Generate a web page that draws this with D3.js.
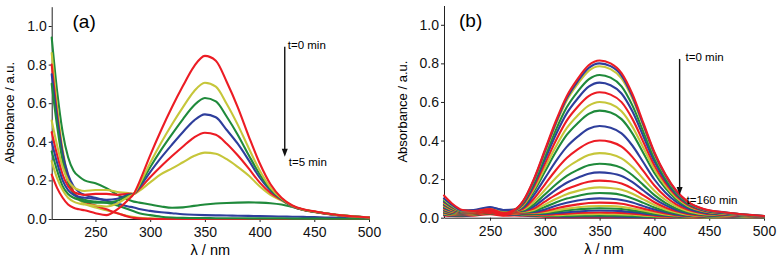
<!DOCTYPE html>
<html>
<head>
<meta charset="utf-8">
<script src="https://cdn.jsdelivr.net/npm/d3@7"></script>
<style>
  body { margin: 0; background: #fff; }
  svg { display: block; font-family: "Liberation Sans", Arial, sans-serif; }
  .axis path, .axis line { stroke: #222; stroke-width: 1; }
  .axis text { font-size: 14px; fill: #111; font-family: "Liberation Sans", Arial, sans-serif; }
  .spectrum { fill: none; stroke-width: 2.1; stroke-linejoin: round; stroke-linecap: round; }
</style>
</head>
<body>
<svg id="chart" width="781" height="260"></svg>
<script>
// ---- data ----
const xTicks = [250, 300, 350, 400, 450, 500];
const yTicks = [0, 0.2, 0.4, 0.6, 0.8, 1.0];

// panel (a): t = 0 ... 5 min
const wavelengthsA = [210, 215, 220, 225, 230, 235, 240, 250, 260, 270, 280, 285, 290, 300, 310, 320, 330, 340,
  350, 360, 370, 380, 390, 400, 410, 420, 430, 440, 450, 460, 470, 480, 490, 500];
const spectraA = [
  [0.23, 0.16, 0.11, 0.075, 0.058, 0.05, 0.045, 0.03, 0.02, 0.05, 0.10, 0.13, 0.19, 0.33, 0.46, 0.58, 0.69, 0.79, 0.845, 0.82, 0.71, 0.58, 0.43, 0.29, 0.18, 0.11, 0.07, 0.05, 0.04, 0.03, 0.022, 0.016, 0.012, 0.008],
  [0.30, 0.21, 0.15, 0.11, 0.09, 0.08, 0.075, 0.07, 0.065, 0.08, 0.115, 0.13, 0.178, 0.29, 0.395, 0.491, 0.58, 0.661, 0.706, 0.686, 0.596, 0.489, 0.368, 0.253, 0.163, 0.106, 0.068, 0.049, 0.039, 0.03, 0.022, 0.016, 0.012, 0.008],
  [0.35, 0.25, 0.17, 0.13, 0.11, 0.10, 0.09, 0.085, 0.085, 0.095, 0.12, 0.13, 0.171, 0.268, 0.358, 0.44, 0.518, 0.588, 0.627, 0.609, 0.53, 0.437, 0.332, 0.232, 0.154, 0.104, 0.067, 0.048, 0.038, 0.029, 0.021, 0.016, 0.011, 0.008],
  [0.40, 0.29, 0.20, 0.15, 0.125, 0.115, 0.11, 0.105, 0.10, 0.105, 0.125, 0.13, 0.163, 0.243, 0.318, 0.386, 0.451, 0.51, 0.542, 0.527, 0.461, 0.39, 0.305, 0.215, 0.147, 0.102, 0.066, 0.048, 0.038, 0.029, 0.021, 0.015, 0.011, 0.008],
  [0.45, 0.33, 0.23, 0.17, 0.14, 0.13, 0.125, 0.13, 0.13, 0.125, 0.13, 0.13, 0.155, 0.216, 0.273, 0.326, 0.376, 0.422, 0.447, 0.436, 0.39, 0.33, 0.262, 0.19, 0.135, 0.10, 0.066, 0.047, 0.037, 0.028, 0.021, 0.015, 0.011, 0.008],
  [0.51, 0.38, 0.27, 0.20, 0.165, 0.15, 0.145, 0.15, 0.15, 0.14, 0.135, 0.13, 0.146, 0.19, 0.232, 0.262, 0.294, 0.326, 0.344, 0.338, 0.31, 0.27, 0.225, 0.17, 0.125, 0.095, 0.065, 0.047, 0.037, 0.028, 0.02, 0.015, 0.011, 0.008],
  [0.70, 0.48, 0.30, 0.19, 0.13, 0.11, 0.10, 0.09, 0.085, 0.07, 0.05, 0.04, 0.03, 0.02, 0.012, 0.008, 0.006, 0.005, 0.005, 0.004, 0.004, 0.004, 0.003, 0.003, 0.003, 0.003, 0.002, 0.002, 0.002, 0.002, 0.001, 0.001, 0.001, 0.001],
  [0.75, 0.52, 0.34, 0.23, 0.17, 0.14, 0.125, 0.11, 0.095, 0.08, 0.065, 0.06, 0.052, 0.042, 0.035, 0.03, 0.025, 0.022, 0.02, 0.019, 0.018, 0.017, 0.016, 0.015, 0.014, 0.013, 0.012, 0.011, 0.01, 0.008, 0.007, 0.006, 0.005, 0.004],
  [0.80, 0.54, 0.34, 0.21, 0.14, 0.11, 0.09, 0.07, 0.05, 0.03, 0.012, 0.006, 0.003, 0.001, 0, 0, 0, 0, 0, 0, 0, 0, 0, 0, 0, 0, 0, 0, 0, 0, 0, 0, 0, 0],
  [0.86, 0.58, 0.36, 0.22, 0.14, 0.10, 0.08, 0.06, 0.045, 0.03, 0.015, 0.01, 0.006, 0.003, 0.001, 0, 0, 0, 0, 0, 0, 0, 0, 0, 0, 0, 0, 0, 0, 0, 0, 0, 0, 0],
  [0.94, 0.66, 0.45, 0.32, 0.25, 0.22, 0.20, 0.185, 0.16, 0.125, 0.10, 0.09, 0.085, 0.075, 0.065, 0.058, 0.06, 0.068, 0.075, 0.08, 0.083, 0.085, 0.086, 0.085, 0.082, 0.075, 0.062, 0.048, 0.038, 0.03, 0.022, 0.016, 0.012, 0.008]
];

// panel (b): t = 0 ... 160 min
const wavelengthsB = [208, 215, 225, 235, 250, 262, 272, 280, 290, 300, 310, 320, 330, 340, 350, 360, 370, 380,
  390, 400, 410, 420, 430, 445, 465, 500];
const spectraB = [
  [0.115, 0.075, 0.04, 0.035, 0.045, 0.025, 0.04, 0.085, 0.20, 0.35, 0.50, 0.63, 0.72, 0.79, 0.815, 0.80, 0.75, 0.64, 0.49, 0.34, 0.225, 0.14, 0.085, 0.045, 0.027, 0.009],
  [0.10, 0.068, 0.038, 0.04, 0.055, 0.04, 0.042, 0.083, 0.196, 0.344, 0.491, 0.619, 0.707, 0.776, 0.80, 0.786, 0.737, 0.628, 0.481, 0.334, 0.221, 0.137, 0.083, 0.044, 0.027, 0.009],
  [0.095, 0.064, 0.036, 0.038, 0.05, 0.038, 0.042, 0.082, 0.193, 0.337, 0.482, 0.607, 0.693, 0.761, 0.785, 0.77, 0.722, 0.616, 0.472, 0.327, 0.217, 0.135, 0.082, 0.043, 0.026, 0.009],
  [0.09, 0.06, 0.035, 0.036, 0.048, 0.036, 0.04, 0.077, 0.182, 0.318, 0.454, 0.572, 0.654, 0.717, 0.74, 0.726, 0.681, 0.581, 0.445, 0.309, 0.204, 0.127, 0.077, 0.041, 0.025, 0.008],
  [0.085, 0.057, 0.034, 0.036, 0.052, 0.04, 0.04, 0.073, 0.172, 0.301, 0.43, 0.541, 0.618, 0.679, 0.70, 0.687, 0.644, 0.55, 0.421, 0.292, 0.193, 0.12, 0.073, 0.039, 0.023, 0.008],
  [0.08, 0.054, 0.033, 0.032, 0.042, 0.022, 0.036, 0.068, 0.16, 0.279, 0.399, 0.503, 0.575, 0.63, 0.65, 0.638, 0.599, 0.511, 0.391, 0.271, 0.18, 0.112, 0.068, 0.036, 0.022, 0.007],
  [0.076, 0.051, 0.032, 0.033, 0.045, 0.034, 0.037, 0.063, 0.147, 0.258, 0.368, 0.464, 0.53, 0.581, 0.60, 0.589, 0.552, 0.471, 0.361, 0.25, 0.166, 0.103, 0.063, 0.033, 0.02, 0.007],
  [0.072, 0.048, 0.031, 0.032, 0.043, 0.033, 0.036, 0.058, 0.136, 0.238, 0.341, 0.429, 0.49, 0.538, 0.555, 0.545, 0.511, 0.436, 0.334, 0.232, 0.153, 0.095, 0.058, 0.031, 0.018, 0.006],
  [0.068, 0.046, 0.03, 0.033, 0.05, 0.038, 0.037, 0.052, 0.117, 0.204, 0.292, 0.367, 0.42, 0.461, 0.475, 0.466, 0.437, 0.373, 0.286, 0.198, 0.131, 0.082, 0.05, 0.026, 0.016, 0.005],
  [0.064, 0.043, 0.029, 0.029, 0.038, 0.02, 0.033, 0.046, 0.098, 0.172, 0.246, 0.309, 0.354, 0.388, 0.40, 0.393, 0.368, 0.314, 0.241, 0.167, 0.11, 0.069, 0.042, 0.022, 0.013, 0.004],
  [0.06, 0.04, 0.028, 0.03, 0.042, 0.032, 0.034, 0.042, 0.082, 0.144, 0.206, 0.259, 0.296, 0.325, 0.335, 0.329, 0.308, 0.263, 0.201, 0.14, 0.092, 0.058, 0.035, 0.018, 0.011, 0.004],
  [0.056, 0.038, 0.027, 0.029, 0.04, 0.031, 0.033, 0.038, 0.069, 0.12, 0.172, 0.217, 0.248, 0.272, 0.28, 0.275, 0.258, 0.22, 0.169, 0.117, 0.077, 0.048, 0.029, 0.015, 0.009, 0.003],
  [0.052, 0.036, 0.026, 0.03, 0.046, 0.035, 0.034, 0.036, 0.058, 0.101, 0.144, 0.181, 0.207, 0.228, 0.235, 0.23, 0.216, 0.184, 0.141, 0.098, 0.065, 0.04, 0.024, 0.013, 0.008, 0.003],
  [0.048, 0.033, 0.025, 0.026, 0.034, 0.018, 0.03, 0.033, 0.047, 0.083, 0.118, 0.149, 0.17, 0.186, 0.192, 0.189, 0.177, 0.151, 0.116, 0.08, 0.053, 0.033, 0.02, 0.011, 0.006, 0.002],
  [0.045, 0.031, 0.024, 0.027, 0.037, 0.029, 0.031, 0.031, 0.04, 0.068, 0.097, 0.122, 0.139, 0.152, 0.157, 0.154, 0.145, 0.124, 0.095, 0.066, 0.043, 0.027, 0.016, 0.009, 0.005, 0.002],
  [0.042, 0.029, 0.023, 0.026, 0.035, 0.028, 0.03, 0.029, 0.035, 0.055, 0.079, 0.099, 0.113, 0.124, 0.128, 0.126, 0.118, 0.10, 0.077, 0.053, 0.035, 0.022, 0.013, 0.007, 0.004, 0.001],
  [0.039, 0.027, 0.022, 0.027, 0.04, 0.032, 0.031, 0.028, 0.03, 0.043, 0.062, 0.077, 0.089, 0.097, 0.10, 0.098, 0.092, 0.079, 0.06, 0.042, 0.028, 0.017, 0.01, 0.006, 0.003, 0.001],
  [0.036, 0.025, 0.021, 0.023, 0.03, 0.016, 0.027, 0.026, 0.027, 0.035, 0.048, 0.06, 0.069, 0.076, 0.078, 0.077, 0.072, 0.061, 0.047, 0.033, 0.022, 0.013, 0.008, 0.004, 0.003, 0.001],
  [0.033, 0.023, 0.02, 0.023, 0.032, 0.026, 0.028, 0.025, 0.024, 0.028, 0.038, 0.047, 0.054, 0.059, 0.061, 0.06, 0.056, 0.048, 0.037, 0.026, 0.017, 0.011, 0.006, 0.003, 0.002, 0.001],
  [0.03, 0.021, 0.018, 0.021, 0.03, 0.024, 0.026, 0.023, 0.021, 0.023, 0.03, 0.038, 0.043, 0.047, 0.049, 0.048, 0.045, 0.038, 0.029, 0.02, 0.014, 0.008, 0.005, 0.003, 0.002, 0.001],
  [0.027, 0.019, 0.017, 0.022, 0.034, 0.027, 0.026, 0.022, 0.019, 0.02, 0.024, 0.028, 0.032, 0.036, 0.037, 0.036, 0.034, 0.029, 0.022, 0.015, 0.01, 0.006, 0.004, 0.002, 0.001, 0],
  [0.024, 0.017, 0.015, 0.018, 0.025, 0.013, 0.022, 0.02, 0.017, 0.016, 0.018, 0.021, 0.024, 0.026, 0.027, 0.026, 0.025, 0.021, 0.016, 0.011, 0.007, 0.005, 0.003, 0.001, 0.001, 0],
  [0.021, 0.015, 0.014, 0.017, 0.026, 0.02, 0.021, 0.018, 0.015, 0.013, 0.013, 0.015, 0.017, 0.018, 0.019, 0.018, 0.017, 0.015, 0.011, 0.008, 0.005, 0.003, 0.002, 0.001, 0, 0],
  [0.018, 0.013, 0.012, 0.015, 0.022, 0.018, 0.018, 0.015, 0.012, 0.01, 0.009, 0.009, 0.01, 0.011, 0.011, 0.01, 0.01, 0.008, 0.006, 0.004, 0.003, 0.002, 0.001, 0, 0, 0],
  [0.015, 0.011, 0.01, 0.014, 0.024, 0.018, 0.016, 0.013, 0.01, 0.008, 0.006, 0.005, 0.006, 0.006, 0.006, 0.006, 0.005, 0.004, 0.003, 0.002, 0.002, 0.001, 0.001, 0, 0, 0],
  [0.012, 0.009, 0.008, 0.011, 0.018, 0.01, 0.012, 0.01, 0.008, 0.005, 0.003, 0.003, 0.003, 0.003, 0.003, 0.003, 0.003, 0.003, 0.002, 0.001, 0.001, 0, 0, 0, 0, 0]
];

// arrows: wavelength, start and end absorbance, labels
const arrowA = { lambda: 423, from: 0.893, to: 0.323, top: 't=0 min', bottom: 't=5 min' };
const arrowB = { lambda: 423, from: 0.823, to: 0.118, top: 't=0 min', bottom: 't=160 min' };

const RED = '#ec1c24', YELLOW = '#c6c63a', GREEN = '#1f8a3b', BLUE = '#2e3e9c';

class SpectraPanel {
    constructor(config) {
        this.config = config;
        this.initViz();
        this.renderViz();
    }

    // scales, axes and static text
    initViz() {
        const that = this;
        const c = that.config;

        that.xScale = d3.scaleLinear().domain([c.lambdaStart, 500]).range([c.left, c.right]);
        that.yScale = d3.scaleLinear().domain([0, 1.1]).range([c.bottom, c.top]);

        that.viz = d3.select('#chart').append('g');

        that.viz.append('g')
            .attr('class', 'axis x-axis')
            .attr('transform', `translate(0,${c.bottom})`)
            .call(d3.axisBottom(that.xScale).tickValues(xTicks).tickSize(3).tickSizeOuter(0).tickPadding(5));

        that.viz.append('g')
            .attr('class', 'axis y-axis')
            .attr('transform', `translate(${c.left},0)`)
            .call(d3.axisLeft(that.yScale).tickValues(yTicks).tickFormat(d3.format('.1f'))
                .tickSize(3).tickSizeOuter(0).tickPadding(2));

        // axis titles
        that.viz.append('text')
            .attr('transform', `translate(${c.left - 37.5},${(c.top + c.bottom) / 2}) rotate(-90)`)
            .attr('text-anchor', 'middle')
            .style('font-size', '13px')
            .text('Absorbance / a.u.');

        that.viz.append('text')
            .attr('x', (c.left + c.right) / 2)
            .attr('y', c.bottom + 36)
            .attr('text-anchor', 'middle')
            .style('font-size', '14.5px')
            .text('λ / nm');

        that.viz.append('text')
            .attr('x', c.labelX)
            .attr('y', c.top + 21)
            .style('font-size', '19px')
            .text(c.label);
    }

    renderViz() {
        const that = this;
        const c = that.config;

        const line = d3.line()
            .x((d, i) => that.xScale(c.wavelengths[i]))
            .y(d => that.yScale(d))
            .curve(d3.curveMonotoneX);

        // earliest spectrum drawn last so it sits on top
        const order = c.spectra.map((s, i) => ({ s, i })).reverse();
        that.viz.append('g').selectAll('path')
            .data(order)
            .join('path')
            .attr('class', 'spectrum')
            .attr('stroke', d => c.color(d.i))
            .attr('d', d => line(d.s));

        // time arrow
        const a = c.arrow;
        const ax = that.xScale(a.lambda);
        const y0 = that.yScale(a.from), y1 = that.yScale(a.to);
        that.viz.append('line')
            .attr('x1', ax).attr('x2', ax)
            .attr('y1', y0).attr('y2', y1 - 6)
            .attr('stroke', '#111').attr('stroke-width', 1.4);
        that.viz.append('path')
            .attr('d', `M${ax - 3},${y1 - 8} L${ax + 3},${y1 - 8} L${ax},${y1} Z`)
            .attr('fill', '#111');

        that.viz.append('text')
            .attr('x', ax + c.textGap).attr('y', y0 + 2.5)
            .style('font-size', '11.5px')
            .text(a.top);
        that.viz.append('text')
            .attr('x', ax + c.textGap + 1).attr('y', y1 + 9.5)
            .style('font-size', '11.5px')
            .text(a.bottom);
    }
}

new SpectraPanel({
    wavelengths: wavelengthsA, spectra: spectraA, lambdaStart: 210,
    left: 51.7, right: 369, top: 6.7, bottom: 219,
    label: '(a)', labelX: 72.5, arrow: arrowA, textGap: 3,
    color: i => [RED, YELLOW, GREEN, BLUE][i % 4]
});

new SpectraPanel({
    wavelengths: wavelengthsB, spectra: spectraB, lambdaStart: 208,
    left: 444, right: 764, top: 5.5, bottom: 217.7,
    label: '(b)', labelX: 459, arrow: arrowB, textGap: 6,
    color: i => i < 2 ? [RED, BLUE][i] : [BLUE, RED, YELLOW, GREEN][i % 4]
});
</script>
</body>
</html>
